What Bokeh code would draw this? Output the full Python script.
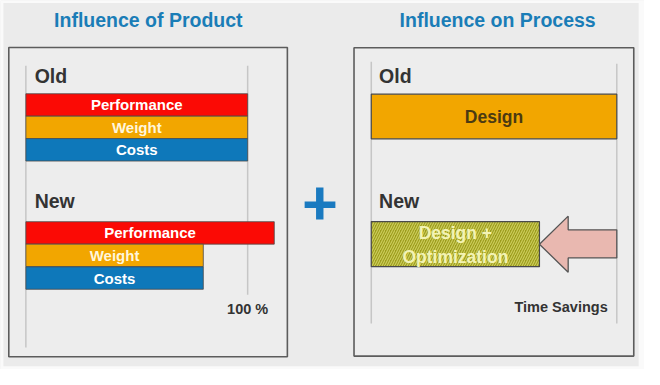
from bokeh.plotting import figure
from bokeh.models import Range1d, ColumnDataSource
from bokeh.core.properties import value
from bokeh.embed import file_html
from bokeh.resources import INLINE

# ---------------- data ----------------
product_titles = ["Influence of Product", "Influence on Process"]
product_categories = ["Performance", "Weight", "Costs"]
product_colors = ["#fb0a05", "#f2a600", "#0e78ba"]
product_text_colors = ["#ffffff", "#fff6dc", "#ffffff"]
product_old = [100, 100, 100]      # % of old design
product_new = [112, 80, 80]        # % of old design
process_labels_old = ["Design"]
process_old = [100]                # time share
process_labels_new = ["Design +\nOptimization"]
process_new = [68.5]
phase_labels = ["Old", "New"]
percent_label = "100 %"
saving_label = "Time Savings"

FONT = value("Liberation Sans")
BG = "#ebebeb"
W, H = 660, 385

p = figure(width=644, height=369, output_backend="svg", toolbar_location=None,
           x_range=Range1d(0, W), y_range=Range1d(H, 0),
           x_axis_type=None, y_axis_type=None, min_border=0,
           background_fill_color=BG, border_fill_color=BG,
           outline_line_color=None)
p.xgrid.visible = False
p.ygrid.visible = False

# slide edges (white page around the slide image)
p.quad(left=[0, 0, 654, 0], right=[W, 3, W, W], top=[0, 0, 0, 381.5],
       bottom=[2.5, H, H, H], fill_color="#fafafa", line_color=None)

# percent scales for the two panels (positions of 0 % and 100 %)
L0, L100 = 26.0, 253.3
R0, R100 = 380.0, 631.6
ls = (L100 - L0) / 100.0
rs = (R100 - R0) / 100.0
p.extra_x_ranges = {
    "prod": Range1d((0 - L0) / ls, (W - L0) / ls),
    "proc": Range1d((0 - R0) / rs, (W - R0) / rs),
}

# titles
p.text(x=[151.5, 509.5], y=[20, 20], text=product_titles, text_font=FONT,
       text_font_style="bold", text_font_size="19.5px", text_color="#1a7db7",
       text_align="center", text_baseline="middle")

# panel boxes
p.quad(left=[8.5, 362.3], right=[294, 649], top=[49, 49.3], bottom=[371.7, 371],
       fill_color="#ededed", line_color="#5c5c5c", line_width=1.6)

# plus sign
p.quad(left=[311.7, 323.4], right=[343.2, 331], top=[209.8, 195], bottom=[216.6, 228.5],
       fill_color="#1a7ac0", line_color=None)

# guide lines
p.segment(x0=[0, 100], x1=[0, 100], y0=[68, 68], y1=[362, 307],
          x_range_name="prod", line_color="#c6c6c6", line_width=1.5)
p.segment(x0=[0, 100], x1=[0, 100], y0=[64, 66], y1=[337, 337],
          x_range_name="proc", line_color="#c6c6c6", line_width=1.5)

# phase labels
for xs in (35, 388):
    p.text(x=[xs, xs], y=[79, 209], text=phase_labels, text_font=FONT,
           text_font_style="bold", text_font_size="19.5px", text_color="#333333",
           text_align="left", text_baseline="middle")

# product bars
old_y = [109.0, 132.4, 155.8]
new_y = [242.5, 265.9, 289.6]
for vals, ys in ((product_old, old_y), (product_new, new_y)):
    src = ColumnDataSource(dict(y=ys, right=vals, color=product_colors,
                                tc=product_text_colors, label=product_categories,
                                mid=[v / 2 for v in vals]))
    p.hbar(y="y", left=0, right="right", height=23.4, source=src,
           fill_color="color", line_color="#4a4a4a", line_width=0.8,
           x_range_name="prod")
    p.text(x="mid", y="y", text="label", source=src, x_range_name="prod",
           text_font=FONT, text_font_style="bold", text_font_size="15px",
           text_color="tc", text_align="center", text_baseline="middle")

p.text(x=[100], y=[322], text=[percent_label], x_range_name="prod",
       text_font=FONT, text_font_style="bold", text_font_size="14.5px",
       text_color="#333333", text_align="center", text_baseline="middle")

# process bars
p.hbar(y=[121.0], left=0, right=process_old, height=46.6, x_range_name="proc",
       fill_color="#f2a600", line_color="#4a4a4a", line_width=1.2)
p.text(x=[v / 2 for v in process_old], y=[121.5], text=process_labels_old,
       x_range_name="proc", text_font=FONT, text_font_style="bold",
       text_font_size="17.5px", text_color="#4b3a12", text_align="center",
       text_baseline="middle")

p.hbar(y=[254.2], left=0, right=process_new, height=47, x_range_name="proc",
       fill_color="#9c9c1c", line_color="#4a4a4a", line_width=1.2,
       hatch_pattern="/", hatch_color="#cccc5a", hatch_scale=5, hatch_weight=1.2)
p.text(x=[v / 2 for v in process_new], y=[255], text=process_labels_new,
       x_range_name="proc", text_font=FONT, text_font_style="bold",
       text_font_size="17.5px", text_color="#f3f3b4", text_align="center",
       text_baseline="middle", text_line_height=1.2)

# time-saving arrow from old end back to new end
tip = process_new[0]
end = process_old[0]
head = tip + 11.7
cy = 254.3
p.patch(x=[tip, head, head, end, end, head, head],
        y=[cy, 225, 239.3, 239.3, 268.6, 268.6, 283.5],
        x_range_name="proc", fill_color="#e9b8b0", line_color="#555555",
        line_width=1.3)

p.text(x=[end - 3.7], y=[319.5], text=[saving_label], x_range_name="proc",
       text_font=FONT, text_font_style="bold", text_font_size="14.5px",
       text_color="#333333", text_align="right", text_baseline="middle")

open("out.html", "w").write(file_html(p, INLINE))
